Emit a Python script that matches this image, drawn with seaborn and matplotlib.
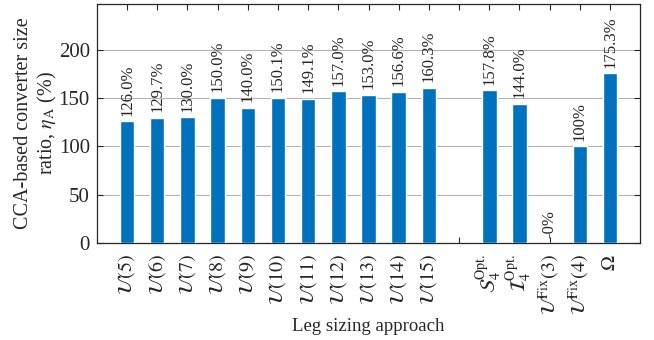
import matplotlib
matplotlib.use("Agg")
import matplotlib.pyplot as plt
import seaborn as sns
import pandas as pd

# categories (a blank slot separates the U(n) group from the rest)
categories = [r"$\mathcal{U}(%d)$" % n for n in range(5, 16)] + [
    r"$\mathcal{S}_4^{\mathrm{Opt.}}$",
    r"$\mathcal{I}_4^{\mathrm{Opt.}}$",
    r"$\mathcal{U}^{\mathrm{Fix}}(3)$",
    r"$\mathcal{U}^{\mathrm{Fix}}(4)$",
    r"$\Omega$",
]
ratios = [126.0, 129.7, 130.0, 150.0, 140.0, 150.1, 149.1, 157.0, 153.0, 156.6, 160.3,
          157.8, 144.0, 0.0, 100.0, 175.3]
bar_texts = ["126.0%", "129.7%", "130.0%", "150.0%", "140.0%", "150.1%", "149.1%",
             "157.0%", "153.0%", "156.6%", "160.3%", "157.8%", "144.0%", "-0%",
             "100%", "175.3%"]
gap_label = " "
order = categories[:11] + [gap_label] + categories[11:]

df = pd.DataFrame({"approach": categories, "ratio": ratios})

sns.set_style("ticks")
plt.rcParams["font.family"] = ["Liberation Serif", "DejaVu Serif"]
plt.rcParams["mathtext.fontset"] = "stix"

fig = plt.figure(figsize=(6.54, 3.40), dpi=100)
ax = fig.add_axes([0.148, 0.285, 0.831, 0.703])

sns.barplot(data=df, x="approach", y="ratio", order=order, color="#0072BD",
            saturation=1, width=0.48, ax=ax, zorder=3)

bars = ax.containers[0]
ax.bar_label(bars, labels=bar_texts, rotation=90, padding=4, fontsize=12)

ax.set_xlim(-1, len(order))
ax.set_ylim(0, 247)
ax.set_yticks([0, 50, 100, 150, 200])
ax.yaxis.grid(True, color="#b4b4b4", linewidth=0.8, zorder=0)
ax.set_axisbelow(True)

ax.set_xticks(range(len(order)))
ax.set_xticklabels(order, rotation=90)
ax.tick_params(axis="both", direction="in", top=True, right=True, length=4,
               width=0.8)
ax.tick_params(axis="y", labelsize=15, pad=5)
ax.tick_params(axis="x", labelsize=14.5, pad=8)
for s in ax.spines.values():
    s.set_visible(True)
    s.set_color("#262626")
    s.set_linewidth(0.9)

ax.set_xlabel("Leg sizing approach", fontsize=13.5, labelpad=2)
ax.set_ylabel("CCA-based converter size\nratio, $\\eta_\\mathrm{A}$ (%)", fontsize=14.5,
              linespacing=1.15, labelpad=0)

fig.savefig("out.png", dpi=100)
